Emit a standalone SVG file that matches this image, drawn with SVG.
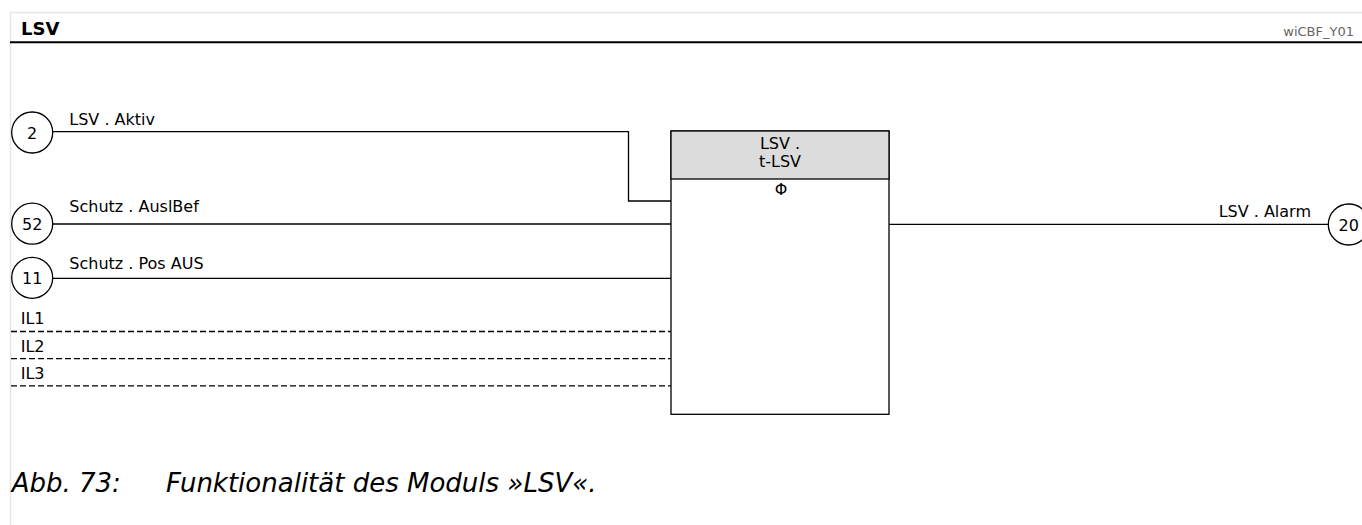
<svg xmlns="http://www.w3.org/2000/svg" width="1362" height="525" viewBox="0 0 1362 525">
<style>
  text { font-family: "DejaVu Sans", "Liberation Sans", sans-serif; fill: #000; }
  .lbl { font-size: 16px; }
  .wire { stroke: #000; stroke-width: 1.3; fill: none; }
  .dash { stroke: #000; stroke-width: 1.3; fill: none; stroke-dasharray: 6 3; }
  .port { fill: #fff; stroke: #000; stroke-width: 1.3; }
</style>
<rect x="0" y="0" width="1362" height="525" fill="#fff"/>
<g id="frame">
  <line x1="10.5" y1="12.5" x2="1362" y2="12.5" stroke="#e6e6e6" stroke-width="1.5"/>
  <line x1="10.5" y1="12.5" x2="10.5" y2="525" stroke="#e6e6e6" stroke-width="1.5"/>
  <text x="21" y="35" font-size="18" font-weight="bold">LSV</text>
  <text x="1354" y="36" font-size="13" text-anchor="end" style="fill:#666">wiCBF_Y01</text>
  <line x1="10" y1="42.3" x2="1362" y2="42.3" stroke="#000" stroke-width="2"/>
</g>
<g id="connectors">
  <polyline class="wire" points="52.7,131.7 628.5,131.7 628.5,201 671,201"/>
  <line class="wire" x1="52.7" y1="224" x2="671" y2="224"/>
  <line class="wire" x1="52.7" y1="278.3" x2="671" y2="278.3"/>
  <line class="dash" x1="11" y1="331.5" x2="671" y2="331.5"/>
  <line class="dash" x1="11" y1="358.7" x2="671" y2="358.7"/>
  <line class="dash" x1="11" y1="385.8" x2="671" y2="385.8"/>
  <line class="wire" x1="889" y1="224.3" x2="1328.3" y2="224.3"/>
  <text class="lbl" x="69.3" y="125">LSV . Aktiv</text>
  <text class="lbl" x="69.3" y="212">Schutz . AuslBef</text>
  <text class="lbl" x="69.3" y="269.3">Schutz . Pos AUS</text>
  <text class="lbl" x="20.7" y="324">IL1</text>
  <text class="lbl" x="20.7" y="351.5">IL2</text>
  <text class="lbl" x="20.7" y="379">IL3</text>
  <text class="lbl" x="1311" y="216.7" text-anchor="end">LSV . Alarm</text>
</g>
<g id="port-2">
  <circle class="port" cx="32.2" cy="132.5" r="20.5"/>
  <text class="lbl" x="32.2" y="138.5" text-anchor="middle">2</text>
</g>
<g id="port-52">
  <circle class="port" cx="32.2" cy="223.7" r="20.5"/>
  <text class="lbl" x="32.2" y="229.7" text-anchor="middle">52</text>
</g>
<g id="port-11">
  <circle class="port" cx="32.2" cy="277.8" r="20.5"/>
  <text class="lbl" x="32.2" y="283.8" text-anchor="middle">11</text>
</g>
<g id="port-20">
  <circle class="port" cx="1348.8" cy="224.5" r="20.5"/>
  <text class="lbl" x="1348.8" y="230.5" text-anchor="middle">20</text>
</g>
<g id="block-t-LSV">
  <rect x="671" y="131" width="218" height="283.3" fill="#fff" stroke="#000" stroke-width="1.3"/>
  <rect x="671" y="131" width="218" height="48" fill="#dcdcdc" stroke="#000" stroke-width="1.3"/>
  <text class="lbl" x="780" y="149" text-anchor="middle">LSV .</text>
  <text class="lbl" x="780" y="167.3" text-anchor="middle">t-LSV</text>
  <text class="lbl" x="781" y="195" text-anchor="middle">Φ</text>
</g>
<g id="caption">
  <text x="11.7" y="491.7" font-size="26" font-style="italic">Abb. 73:</text>
  <text x="166" y="491.7" font-size="26" font-style="italic">Funktionalität des Moduls »LSV«.</text>
</g>
</svg>
